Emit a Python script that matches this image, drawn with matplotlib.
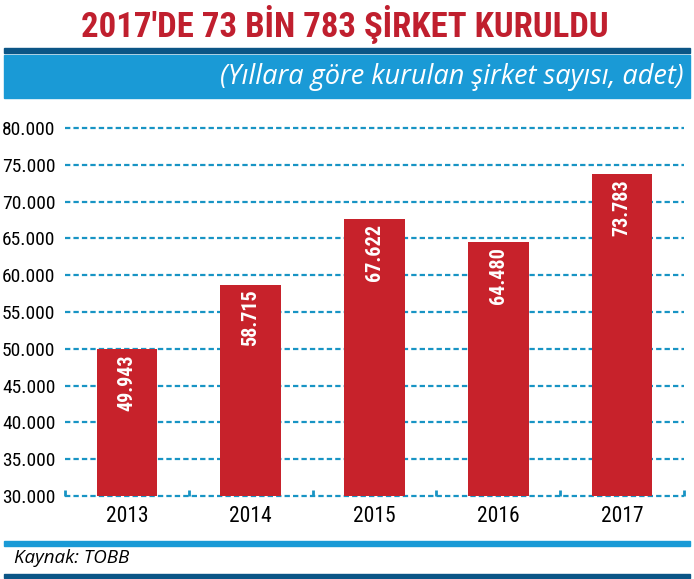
import matplotlib
matplotlib.use('Agg')
import matplotlib.pyplot as plt
from matplotlib import font_manager
from matplotlib.patches import Rectangle

years = ['2013', '2014', '2015', '2016', '2017']
counts = [49943, 58715, 67622, 64480, 73783]
count_labels = ['49.943', '58.715', '67.622', '64.480', '73.783']
yticks = [30000, 35000, 40000, 45000, 50000, 55000, 60000, 65000, 70000, 75000, 80000]
ytick_labels = ['30.000', '35.000', '40.000', '45.000', '50.000', '55.000',
                '60.000', '65.000', '70.000', '75.000', '80.000']

title = "2017'DE 73 BİN 783 ŞİRKET KURULDU"
subtitle = '(Yıllara göre kurulan şirket sayısı, adet)'
source = 'Kaynak: TOBB'

RED = '#c7222b'
TITLE_RED = '#c01f2e'
LIGHT_BLUE = '#1a9ad6'
DARK_BLUE = '#0b5586'
GRID_BLUE = '#1894c4'


def pick_font(names):
    for n in names:
        try:
            font_manager.findfont(font_manager.FontProperties(family=n), fallback_to_default=False)
            return n
        except Exception:
            pass
    return 'DejaVu Sans'


narrow = pick_font(['Liberation Sans Narrow', 'Roboto Condensed', 'Roboto', 'DejaVu Sans'])
italic_font = pick_font(['Open Sans', 'Noto Sans', 'DejaVu Sans'])

W, H = 694, 579
fig = plt.figure(figsize=(W / 100, H / 100), dpi=100)


def fx(px):
    return px / W


def fy(py):
    return 1 - py / H


# header
fig.text(fx(345), fy(24), title, ha='center', va='center', color=TITLE_RED,
         fontsize=25, fontweight='bold', family=narrow)
fig.patches.append(Rectangle((fx(4), fy(53)), fx(686), 5 / H, transform=fig.transFigure,
                             color=DARK_BLUE, zorder=0))
fig.patches.append(Rectangle((fx(4), fy(98)), fx(686), 43 / H, transform=fig.transFigure,
                             color=LIGHT_BLUE, zorder=0))
fig.text(fx(684), fy(77), subtitle, ha='right', va='center', color='white',
         fontsize=19.5, style='italic', family=italic_font)

# footer
fig.patches.append(Rectangle((fx(4), fy(546)), fx(686), 5 / H, transform=fig.transFigure,
                             color=LIGHT_BLUE, zorder=0))
fig.text(fx(14), fy(558), source, ha='left', va='center', color='black',
         fontsize=13.5, style='italic', family=italic_font)
fig.patches.append(Rectangle((fx(4), fy(578)), fx(686), 4 / H, transform=fig.transFigure,
                             color=DARK_BLUE, zorder=0))

# chart
ax = fig.add_axes([fx(65), fy(496), fx(684 - 65), (496 - 128) / H])
x = range(len(years))
ax.set_xlim(-0.5, len(years) - 0.5)
ax.set_ylim(30000, 80000)

for v in yticks:
    ax.axhline(v, color=GRID_BLUE, lw=1.6, ls=(0, (2.4, 1.4)), zorder=1, clip_on=False)

bars = ax.bar(x, counts, width=0.49, color=RED, zorder=2)
for b, lab in zip(bars, count_labels):
    ax.text(b.get_x() + b.get_width() / 2, b.get_height() - 700, lab, rotation=90,
            ha='center', va='top', color='white', fontsize=14.5, fontweight='bold',
            family=narrow, zorder=3)

for s in ax.spines.values():
    s.set_visible(False)

ax.set_yticks(yticks)
ax.set_yticklabels(ytick_labels, family=narrow, fontsize=14)
ax.set_xticks(list(x))
ax.set_xticklabels(years, family=narrow, fontsize=15.5)
ax.tick_params(axis='both', length=0)
ax.tick_params(axis='y', pad=7)
ax.tick_params(axis='x', pad=7)

ax.set_xticks([i - 0.5 for i in range(len(years) + 1)], minor=True)
ax.tick_params(axis='x', which='minor', direction='in', length=4.5, width=2, color=GRID_BLUE)

fig.savefig('out.png', dpi=100)
